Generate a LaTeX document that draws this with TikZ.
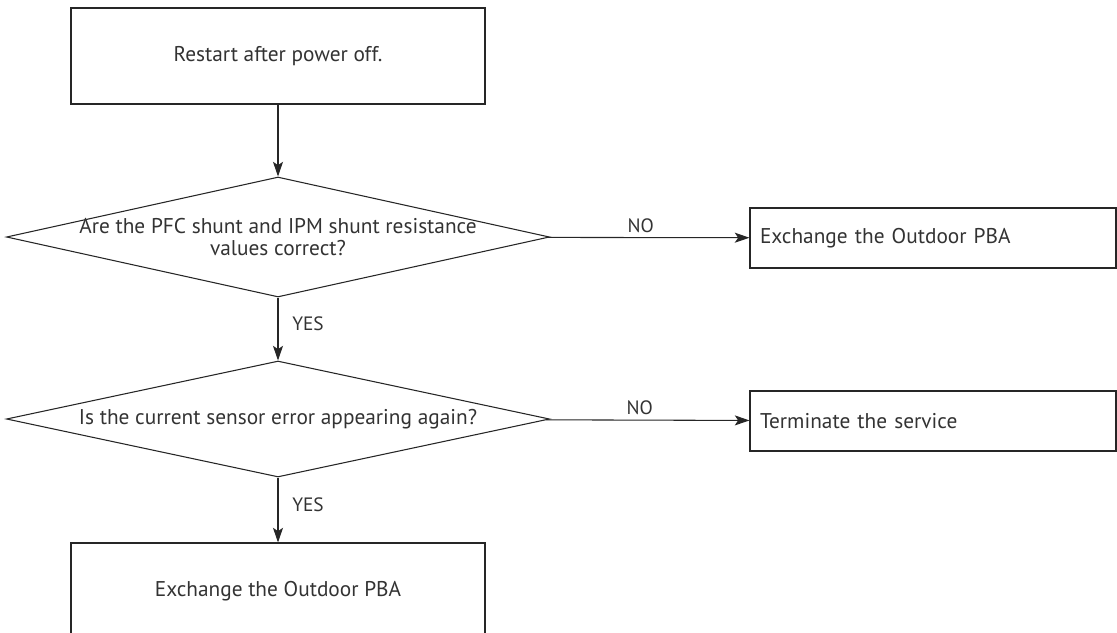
\documentclass[tikz,border=0pt]{standalone}
\usepackage{fontspec}
\setmainfont{PT Sans}
\usetikzlibrary{arrows.meta,positioning,shapes.geometric}

\begin{document}
\begin{tikzpicture}[
  x=0.75pt, y=-0.75pt,
  font=\fontsize{16}{17}\selectfont, text=black!80,
  b/.style={draw=black!85, line width=0.8pt, minimum width=310.5pt, minimum height=72pt,
    align=center, inner sep=0pt},
  q/.style={draw=black!85, line width=0.8pt, diamond, minimum width=407.25pt,
    inner xsep=-34pt, inner ysep=0pt, align=center},
  o/.style={draw=black!85, line width=0.8pt, minimum width=274.5pt, minimum height=45pt,
    text width=259.5pt, align=left, inner xsep=7.5pt},
  a/.style={-{Stealth[length=11pt, width=7.5pt, inset=2.5pt]}, line width=0.8pt, draw=black!85},
  l/.style={font=\fontsize{14.5}{16}\selectfont}
]
\useasboundingbox (0,0) rectangle (1117,632);
\node[b] (r) at (278,56) {Restart after power off.};
\node[q, minimum height=90pt, aspect=4.525] (c1) at (278,237)
  {Are the PFC shunt and IPM shunt resistance\\values correct?};
\node[o] (e1) at (933,238) {Exchange the Outdoor PBA};
\node[q, minimum height=87pt, aspect=4.68] (c2) at (278,419)
  {Is the current sensor error appearing again?};
\node[o] (t) at (933,421) {Terminate the service};
\node[b] (e2) at (278,591) {Exchange the Outdoor PBA};
\draw[a] (r)--(c1);
\draw[a] (c1)--node[l, above=0pt, pos=0.46]{NO}(e1);
\draw[a] (c1)--node[l, right=7pt, pos=0.42]{YES}(c2);
\draw[a] (c2)--node[l, above=0pt, pos=0.46]{NO}(t);
\draw[a] (c2)--node[l, right=7pt, pos=0.42]{YES}(e2);
\end{tikzpicture}
\end{document}
